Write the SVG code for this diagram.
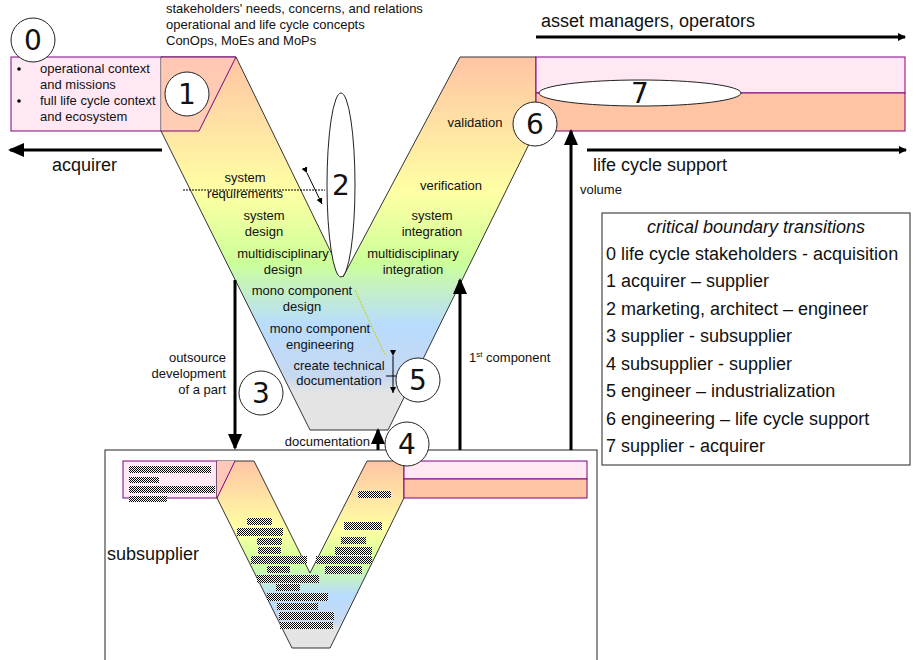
<svg xmlns="http://www.w3.org/2000/svg" width="920" height="660" viewBox="0 0 920 660">
<style>
text{font-family:"Liberation Sans",Arial,sans-serif;fill:#111}
.s{font-size:13px}
.m{font-size:18px}
.c{text-anchor:middle}
.r{text-anchor:end}
.n{font-size:28px;text-anchor:middle;font-family:"DejaVu Sans",sans-serif}
.circ{fill:#fff;stroke:#222;stroke-width:1}
.ar{stroke:#000;stroke-width:3;fill:none}
.hb{fill:url(#hatch)}
</style>
<defs>
<linearGradient id="g1" gradientUnits="userSpaceOnUse" x1="0" y1="57" x2="0" y2="430">
<stop offset="0" stop-color="#ffc4a4"/>
<stop offset="0.36" stop-color="#ffffa4"/>
<stop offset="0.55" stop-color="#ccff99"/>
<stop offset="0.72" stop-color="#b8dcff"/>
<stop offset="0.86" stop-color="#c8d8f0"/>
<stop offset="0.9" stop-color="#e4e4e4"/>
<stop offset="1" stop-color="#e4e4e4"/>
</linearGradient>
<linearGradient id="g2" gradientUnits="userSpaceOnUse" x1="0" y1="461" x2="0" y2="648">
<stop offset="0" stop-color="#ffc4a4"/>
<stop offset="0.36" stop-color="#ffffa4"/>
<stop offset="0.55" stop-color="#ccff99"/>
<stop offset="0.72" stop-color="#b8dcff"/>
<stop offset="0.86" stop-color="#c8d8f0"/>
<stop offset="0.9" stop-color="#e4e4e4"/>
<stop offset="1" stop-color="#e4e4e4"/>
</linearGradient>
<pattern id="hatch" width="2" height="2" patternUnits="userSpaceOnUse">
<rect width="2" height="2" fill="#fff"/><rect width="1" height="1" fill="#000"/><rect x="1" y="1" width="1" height="1" fill="#000"/>
</pattern>
<marker id="ah" markerWidth="8" markerHeight="8" refX="7" refY="4" orient="auto" markerUnits="userSpaceOnUse" viewBox="0 0 8 8">
<path d="M0,0 L8,4 L0,8 Z" fill="#000"/>
</marker>
<marker id="sm" markerWidth="6" markerHeight="6" refX="6" refY="3" orient="auto" markerUnits="userSpaceOnUse" viewBox="0 0 6 6">
<path d="M0,0 L6,3 L0,6 Z" fill="#000"/>
</marker>
<marker id="big" markerWidth="16" markerHeight="14" refX="14" refY="7" orient="auto" markerUnits="userSpaceOnUse" viewBox="0 0 16 14">
<path d="M0,0 L16,7 L0,14 Z" fill="#000"/>
</marker>
</defs>
<rect width="920" height="660" fill="#fff"/>

<g id="subsupplier-frame">
<rect x="105" y="450" width="492" height="215" fill="none" stroke="#222" stroke-width="1"/>
<text x="107" y="560" class="m">subsupplier</text>
</g>

<g id="main-v">
<rect x="11" y="57" width="151" height="74" fill="#ffe8f4" stroke="#800080"/>
<path d="M161,57 L236,57 L236,57 L343,277 L460,57 L536,57 L536,130 L388,430 L310,430 L161,131 Z" fill="url(#g1)" stroke="#333" stroke-width="1"/>
<path d="M161,57 L236,57 L199,131 L161,131 Z" fill="#ffc8b8" opacity="0.8"/>
<line x1="236" y1="57" x2="199" y2="131" stroke="#800080"/>
<line x1="161" y1="131" x2="199" y2="131" stroke="#800080"/>
<line x1="161" y1="57" x2="236" y2="57" stroke="#800080"/>
<rect x="536" y="57" width="369" height="36" fill="#ffe8f4" stroke="#800080"/>
<rect x="536" y="93" width="369" height="38" fill="#ffc4a4" stroke="#800080"/>
<line x1="183" y1="190" x2="325" y2="190" stroke="#000" stroke-dasharray="2,1"/>
<line x1="355" y1="290" x2="385" y2="355" stroke="#cccc00" stroke-dasharray="2,1"/>
</g>

<g id="labels-main">
<text x="166" y="13" class="s">stakeholders' needs, concerns, and relations</text>
<text x="166" y="29" class="s">operational and life cycle concepts</text>
<text x="166" y="45" class="s">ConOps, MoEs and MoPs</text>
<circle cx="19" cy="69" r="1.8" fill="#000"/>
<circle cx="19" cy="101" r="1.8" fill="#000"/>
<text x="40" y="73" class="s">operational context</text>
<text x="40" y="89" class="s">and missions</text>
<text x="40" y="105" class="s">full life cycle context</text>
<text x="40" y="121" class="s">and ecosystem</text>
<text x="245" y="182" class="s c">system</text>
<text x="245" y="198" class="s c">requirements</text>
<text x="264" y="220" class="s c">system</text>
<text x="264" y="236" class="s c">design</text>
<text x="283" y="258" class="s c">multidisciplinary</text>
<text x="283" y="274" class="s c">design</text>
<text x="302" y="295" class="s c">mono component</text>
<text x="302" y="311" class="s c">design</text>
<text x="320" y="333" class="s c">mono component</text>
<text x="320" y="349" class="s c">engineering</text>
<text x="339" y="370" class="s c">create technical</text>
<text x="339" y="385" class="s c">documentation</text>
<text x="475" y="127" class="s c">validation</text>
<text x="451" y="190" class="s c">verification</text>
<text x="432" y="220" class="s c">system</text>
<text x="432" y="236" class="s c">integration</text>
<text x="413" y="258" class="s c">multidisciplinary</text>
<text x="413" y="274" class="s c">integration</text>
<text x="226" y="362" class="s r">outsource</text>
<text x="226" y="378" class="s r">development</text>
<text x="226" y="394" class="s r">of a part</text>
<text x="469" y="362" class="s">1<tspan font-size="8" dy="-5">st</tspan><tspan dy="5"> component</tspan></text>
<text x="370" y="446" class="s r">documentation</text>
<text x="580" y="194" class="s">volume</text>
<text x="52" y="171" class="m">acquirer</text>
<text x="541" y="27" class="m">asset managers, operators</text>
<text x="593" y="171" class="m">life cycle support</text>
</g>

<g id="sub-v">
<rect x="123" y="461" width="94" height="37" fill="#ffe8f4" stroke="#800080"/>
<path d="M217,461 L254,461 L310,573 L367,461 L404,461 L404,498 L330,648 L292,648 L217,498 Z" fill="url(#g2)" stroke="#333"/>
<path d="M217,461 L235,461 L217,498 Z" fill="#ffc8b8"/>
<line x1="235" y1="461" x2="217" y2="498" stroke="#800080"/>
<rect x="404" y="461" width="183" height="18" fill="#ffe8f4" stroke="#800080"/>
<rect x="404" y="479" width="183" height="19" fill="#ffc4a4" stroke="#800080"/>
<rect class="hb" x="129" y="466" width="82" height="7"/>
<rect class="hb" x="129" y="477" width="30" height="6"/>
<rect class="hb" x="129" y="486" width="86" height="7"/>
<rect class="hb" x="129" y="496" width="38" height="6"/>
<rect class="hb" x="358" y="491" width="33" height="7"/>
<rect class="hb" x="247" y="518" width="25" height="7"/>
<rect class="hb" x="237" y="528" width="46" height="8"/>
<rect class="hb" x="257" y="538" width="25" height="7"/>
<rect class="hb" x="258" y="547" width="23" height="7"/>
<rect class="hb" x="251" y="556" width="56" height="8"/>
<rect class="hb" x="267" y="566" width="23" height="7"/>
<rect class="hb" x="257" y="575" width="62" height="8"/>
<rect class="hb" x="276" y="584" width="24" height="7"/>
<rect class="hb" x="267" y="593" width="61" height="8"/>
<rect class="hb" x="277" y="603" width="41" height="7"/>
<rect class="hb" x="279" y="612" width="55" height="8"/>
<rect class="hb" x="280" y="622" width="53" height="7"/>
<rect class="hb" x="344" y="522" width="38" height="8"/>
<rect class="hb" x="341" y="537" width="25" height="7"/>
<rect class="hb" x="335" y="547" width="37" height="8"/>
<rect class="hb" x="316" y="556" width="56" height="8"/>
<rect class="hb" x="325" y="566" width="37" height="8"/>
</g>

<g id="connectors">
<line x1="162" y1="150" x2="10" y2="150" class="ar" marker-end="url(#big)"/>
<line x1="536" y1="37" x2="905" y2="37" class="ar" stroke-width="2.5" marker-end="url(#ah)"/>
<line x1="587" y1="150" x2="906" y2="150" class="ar" stroke-width="2.5" marker-end="url(#ah)"/>
<line x1="571" y1="450" x2="571" y2="131" class="ar" marker-end="url(#big)"/>
<line x1="460" y1="450" x2="460" y2="280" class="ar" marker-end="url(#big)"/>
<line x1="235" y1="280" x2="235" y2="448" class="ar" marker-end="url(#big)"/>
<line x1="378" y1="450" x2="378" y2="430" class="ar" marker-end="url(#big)"/>
<line x1="307" y1="173" x2="322" y2="204" stroke="#000" marker-start="url(#sm)" marker-end="url(#sm)"/>
<line x1="393" y1="356" x2="393" y2="393" stroke="#000" marker-start="url(#sm)" marker-end="url(#sm)"/>
<line x1="386" y1="376" x2="400" y2="376" stroke="#000"/>
</g>

<g id="n0"><circle class="circ" cx="33" cy="40" r="22"/><text x="33" y="50" class="n">0</text></g>
<g id="n1"><circle class="circ" cx="187" cy="94" r="22"/><text x="187" y="104" class="n">1</text></g>
<g id="n2"><ellipse class="circ" cx="341" cy="185" rx="14" ry="92"/><text x="341" y="195" class="n">2</text></g>
<g id="n3"><circle class="circ" cx="261" cy="393" r="22"/><text x="261" y="403" class="n">3</text></g>
<g id="n4"><circle class="circ" cx="407" cy="444" r="22"/><text x="407" y="454" class="n">4</text></g>
<g id="n5"><circle class="circ" cx="418" cy="380" r="22"/><text x="418" y="390" class="n">5</text></g>
<g id="n6"><circle class="circ" cx="535" cy="124" r="22"/><text x="535" y="134" class="n">6</text></g>
<g id="n7"><ellipse class="circ" cx="640" cy="93" rx="101" ry="13"/><text x="640" y="103" class="n">7</text></g>

<g id="legend">
<rect x="602" y="213" width="308" height="252" fill="#fff" stroke="#222"/>
<text x="756" y="233" class="m c" font-style="italic">critical boundary transitions</text>
<text x="606" y="260" class="m">0 life cycle stakeholders - acquisition</text>
<text x="606" y="287" class="m">1 acquirer – supplier</text>
<text x="606" y="315" class="m">2 marketing, architect – engineer</text>
<text x="606" y="342" class="m">3 supplier - subsupplier</text>
<text x="606" y="370" class="m">4 subsupplier - supplier</text>
<text x="606" y="397" class="m">5 engineer – industrialization</text>
<text x="606" y="425" class="m">6 engineering – life cycle support</text>
<text x="606" y="452" class="m">7 supplier - acquirer</text>
</g>
</svg>
